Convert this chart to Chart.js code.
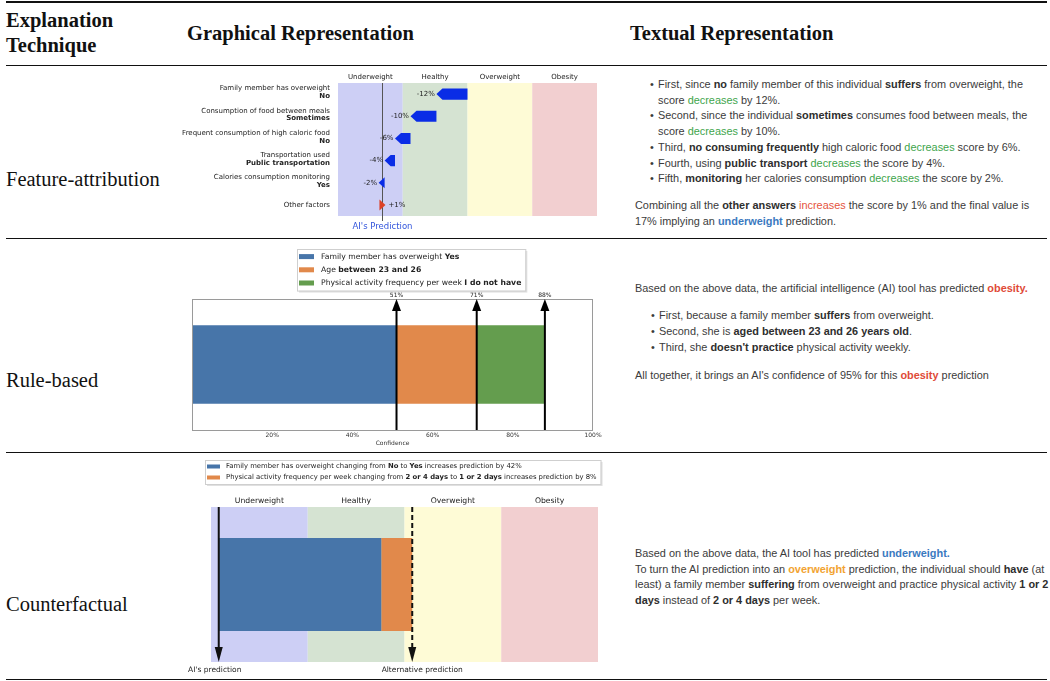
<!DOCTYPE html>
<html>
<head>
<meta charset="utf-8">
<script src="https://cdn.jsdelivr.net/npm/chart.js@4.4.0/dist/chart.umd.min.js"></script>
<style>
body { margin: 0; background: #fff; }
#page { position: relative; width: 1050px; height: 681px; overflow: hidden; background: #fff; }
.rule { position: absolute; left: 6px; width: 1041px; height: 1px; background: #111; }
.serif { position: absolute; font-family: 'Liberation Serif', serif; font-size: 20.5px; color: #111; white-space: nowrap; }
.hd { font-weight: bold; }
.txt { position: absolute; font-family: 'Liberation Sans', Arial, sans-serif; font-size: 10.9px; line-height: 15.7px; color: #3b3b3b; white-space: nowrap; }
.txt b { color: #2e2e2e; }
.bul { position: absolute; left: -8px; }
.g { color: #3ea54c; }
.r { color: #e5533d; }
.bl { color: #3b79bf; font-weight: bold; }
.ro { color: #e04a38; font-weight: bold; }
.or { color: #f2a332; font-weight: bold; }
canvas { position: absolute; }
</style>
</head>
<body>
<div id="page">
  <div class="rule" style="top:1px;height:2px"></div>
  <div class="rule" style="top:65px"></div>
  <div class="rule" style="top:238px"></div>
  <div class="rule" style="top:452px"></div>
  <div class="rule" style="top:679px"></div>

  <div class="serif hd" style="left:6px;top:8px;line-height:25px">Explanation<br>Technique</div>
  <div class="serif hd" style="left:187px;top:21px;line-height:25px">Graphical Representation</div>
  <div class="serif hd" style="left:630px;top:21px;line-height:25px">Textual Representation</div>

  <div class="serif" style="left:6px;top:167px;line-height:25px">Feature-attribution</div>
  <div class="serif" style="left:6px;top:368px;line-height:25px">Rule-based</div>
  <div class="serif" style="left:6px;top:592px;line-height:25px">Counterfactual</div>

  <canvas id="faChart" width="430" height="170" style="left:180px;top:68px"></canvas>
  <canvas id="ruleChart" width="430" height="210" style="left:180px;top:242px"></canvas>
  <canvas id="cfChart" width="430" height="226" style="left:180px;top:455px"></canvas>

  <div class="txt" style="left:658px;top:77px">
    <div style="position:relative"><span class="bul">•</span>First, since <b>no</b> family member of this individual <b>suffers</b> from overweight, the<br>score <span class="g">decreases</span> by 12%.</div>
    <div style="position:relative"><span class="bul">•</span>Second, since the individual <b>sometimes</b> consumes food between meals, the<br>score <span class="g">decreases</span> by 10%.</div>
    <div style="position:relative"><span class="bul">•</span>Third, <b>no consuming frequently</b> high caloric food <span class="g">decreases</span> score by 6%.</div>
    <div style="position:relative"><span class="bul">•</span>Fourth, using <b>public transport</b> <span class="g">decreases</span> the score by 4%.</div>
    <div style="position:relative"><span class="bul">•</span>Fifth, <b>monitoring</b> her calories consumption <span class="g">decreases</span> the score by 2%.</div>
  </div>
  <div class="txt" style="left:635px;top:198px">Combining all the <b>other answers</b> <span class="r">increases</span> the score by 1% and the final value is<br>17% implying an <span class="bl">underweight</span> prediction.</div>

  <div class="txt" style="left:635px;top:281px">Based on the above data, the artificial intelligence (AI) tool has predicted <span class="ro">obesity.</span></div>
  <div class="txt" style="left:659px;top:308px;line-height:15.8px">
    <div style="position:relative"><span class="bul">•</span>First, because a family member <b>suffers</b> from overweight.</div>
    <div style="position:relative"><span class="bul">•</span>Second, she is <b>aged between 23 and 26 years old</b>.</div>
    <div style="position:relative"><span class="bul">•</span>Third, she <b>doesn't practice</b> physical activity weekly.</div>
  </div>
  <div class="txt" style="left:635px;top:368px">All together, it brings an AI's confidence of 95% for this <span class="ro">obesity</span> prediction</div>

  <div class="txt" style="left:635px;top:546px">Based on the above data, the AI tool has predicted <span class="bl">underweight.</span><br>To turn the AI prediction into an <span class="or">overweight</span> prediction, the individual should <b>have</b> (at<br>least) a family member <b>suffering</b> from overweight and practice physical activity <b>1 or 2</b><br><b>days</b> instead of <b>2 or 4 days</b> per week.</div>
</div>

<script>
'use strict';

// BMI zones shared by the feature-attribution and counterfactual charts
const zoneNames = ['Underweight', 'Healthy', 'Overweight', 'Obesity'];
const zoneEdges = [0, 25, 50, 75, 100];
const zoneColors = ['#cdcff5', '#d5e3d2', '#fefbd6', '#f2cfd0'];

// feature attribution
const faFeatures = ['Family member has overweight', 'Consumption of food between meals',
  'Frequent consumption of high caloric food', 'Transportation used',
  'Calories consumption monitoring', 'Other factors'];
const faAnswers = ['No', 'Sometimes', 'No', 'Public transportation', 'Yes', ''];
const faStart = 50;
const faEffects = [-12, -10, -6, -4, -2, 1];

// rule based
const ruleLegend = [
  [['Family member has overweight ', false], ['Yes', true]],
  [['Age ', false], ['between 23 and 26', true]],
  [['Physical activity frequency per week ', false], ['I do not have', true]]
];
const ruleConfidence = [51, 71, 88];
const ruleColors = ['#4775a9', '#e1894b', '#649d4e'];

// counterfactual
const cfLegend = [
  [['Family member has overweight changing from ', false], ['No', true], [' to ', false], ['Yes', true], [' increases prediction by 42%', false]],
  [['Physical activity frequency per week changing from ', false], ['2 or 4 days', true], [' to ', false], ['1 or 2 days', true], [' increases prediction by 8%', false]]
];
const cfPrediction = 2;
const cfChanges = [42, 8];
const cfColors = ['#4775a9', '#e1894b'];

const FONT = "'DejaVu Sans', sans-serif";

function richText(ctx, parts, x, y, size) {
  for (let i = 0; i < parts.length; i++) {
    ctx.font = (parts[i][1] ? 'bold ' : '') + size + 'px ' + FONT;
    ctx.fillText(parts[i][0], x, y);
    x += ctx.measureText(parts[i][0]).width;
  }
  return x;
}

function drawLegendBox(ctx, items, colors, left, top, size, rowH, swW, swH, textOff) {
  ctx.save();
  ctx.textBaseline = 'middle';
  ctx.textAlign = 'left';
  let w = 0;
  for (let i = 0; i < items.length; i++) {
    let x = 0;
    items[i].forEach(p => { ctx.font = (p[1] ? 'bold ' : '') + size + 'px ' + FONT; x += ctx.measureText(p[0]).width; });
    w = Math.max(w, x);
  }
  let boxW = textOff + w + 4;
  let boxH = rowH * items.length + 2;
  ctx.fillStyle = 'rgba(0,0,0,0.12)';
  ctx.fillRect(left + 2, top + 2, boxW, boxH);
  ctx.fillStyle = '#fff';
  ctx.fillRect(left, top, boxW, boxH);
  ctx.strokeStyle = '#cfcfcf';
  ctx.lineWidth = 1;
  ctx.strokeRect(left + 0.5, top + 0.5, boxW, boxH);
  for (let i = 0; i < items.length; i++) {
    let cy = top + 1 + rowH * (i + 0.5);
    ctx.fillStyle = colors[i];
    ctx.fillRect(left + 2, cy - swH / 2, swW, swH);
    ctx.fillStyle = '#222';
    richText(ctx, items[i], left + textOff, cy, size);
  }
  ctx.restore();
}

function zonesPlugin(labelSize, labelGap) {
  return {
    id: 'zones',
    beforeDatasetsDraw(chart) {
      let ctx = chart.ctx, xs = chart.scales.x, a = chart.chartArea;
      ctx.save();
      for (let i = 0; i < zoneNames.length; i++) {
        let x0 = xs.getPixelForValue(zoneEdges[i]);
        let x1 = xs.getPixelForValue(zoneEdges[i + 1]);
        ctx.fillStyle = zoneColors[i];
        ctx.fillRect(x0, a.top, x1 - x0, a.bottom - a.top);
        ctx.fillStyle = '#222';
        ctx.font = labelSize + 'px ' + FONT;
        ctx.textAlign = 'center';
        ctx.textBaseline = 'middle';
        ctx.fillText(zoneNames[i], (x0 + x1) / 2, a.top - labelGap);
      }
      ctx.restore();
    }
  };
}

// ---------- feature attribution ----------
let faBars = [];
let cur = faStart;
for (let i = 0; i < faEffects.length; i++) {
  faBars.push([cur, cur + faEffects[i]]);
  cur += faEffects[i];
}
const faFinal = cur;

const faPlugin = {
  id: 'faArrows',
  afterDatasetsDraw(chart) {
    let ctx = chart.ctx, xs = chart.scales.x, a = chart.chartArea;
    let meta = chart.getDatasetMeta(0);
    ctx.save();
    // prediction line
    let px = Math.round(xs.getPixelForValue(faFinal)) + 0.5;
    ctx.strokeStyle = '#555';
    ctx.lineWidth = 1;
    ctx.beginPath();
    ctx.moveTo(px, a.top);
    ctx.lineTo(px, a.bottom + 5);
    ctx.stroke();
    ctx.fillStyle = '#3456dc';
    ctx.font = '8.5px ' + FONT;
    ctx.textAlign = 'center';
    ctx.textBaseline = 'middle';
    ctx.fillText("AI's Prediction", px, a.bottom + 11);

    meta.data.forEach((bar, i) => {
      let x0 = xs.getPixelForValue(faBars[i][0]);
      let x1 = xs.getPixelForValue(faBars[i][1]);
      let dir = x1 < x0 ? -1 : 1;
      let head = 6;
      if (Math.abs(x1 - x0) < head) x1 = x0 + dir * head;
      let y = bar.y, h = bar.height;
      ctx.fillStyle = faEffects[i] < 0 ? '#0a2ce6' : '#dc4128';
      ctx.beginPath();
      ctx.moveTo(x0, y - h / 2);
      ctx.lineTo(x1 - dir * head, y - h / 2);
      ctx.lineTo(x1, y);
      ctx.lineTo(x1 - dir * head, y + h / 2);
      ctx.lineTo(x0, y + h / 2);
      ctx.closePath();
      ctx.fill();

      ctx.fillStyle = '#222';
      ctx.font = '7px ' + FONT;
      let lbl = (faEffects[i] > 0 ? '+' : '') + faEffects[i] + '%';
      if (dir < 0) {
        ctx.textAlign = 'right';
        ctx.fillText(lbl, x1 - 1.5, y);
      } else {
        ctx.textAlign = 'left';
        ctx.fillText(lbl, x1 + 3, y);
      }

      // category labels, answer in bold
      ctx.textAlign = 'right';
      let lx = a.left - 8;
      if (faAnswers[i]) {
        ctx.font = '7px ' + FONT;
        ctx.fillText(faFeatures[i], lx, y - 5.5);
        ctx.font = 'bold 7px ' + FONT;
        ctx.fillText(faAnswers[i], lx, y + 2.3);
      } else {
        ctx.font = '7px ' + FONT;
        ctx.fillText(faFeatures[i], lx, y);
      }
    });
    ctx.restore();
  }
};

new Chart(document.getElementById('faChart'), {
  type: 'bar',
  data: {
    labels: faFeatures,
    datasets: [{
      data: faBars,
      backgroundColor: 'rgba(0,0,0,0)',
      barPercentage: 0.5,
      categoryPercentage: 1
    }]
  },
  options: {
    indexAxis: 'y',
    responsive: false,
    animation: false,
    layout: { padding: { left: 158, right: 13, top: 15, bottom: 22 } },
    scales: {
      x: { display: false, min: 0, max: 100 },
      y: { display: false }
    },
    plugins: { legend: { display: false }, tooltip: { enabled: false } }
  },
  plugins: [zonesPlugin(7, 6), faPlugin]
});

// ---------- rule based ----------
let ruleBars = ruleConfidence.map((v, i) => [i === 0 ? 0 : ruleConfidence[i - 1], v]);

const rulePlugin = {
  id: 'ruleArrows',
  afterDatasetsDraw(chart) {
    let ctx = chart.ctx, xs = chart.scales.x, a = chart.chartArea;
    ctx.save();
    ctx.strokeStyle = '#9a9a9a';
    ctx.lineWidth = 1;
    ctx.strokeRect(a.left + 0.5, a.top + 0.5, a.right - a.left - 1, a.bottom - a.top);
    ruleConfidence.forEach(v => {
      let x = xs.getPixelForValue(v);
      ctx.strokeStyle = '#000';
      ctx.lineWidth = 2;
      ctx.beginPath();
      ctx.moveTo(x, a.bottom);
      ctx.lineTo(x, a.top + 10);
      ctx.stroke();
      ctx.fillStyle = '#000';
      ctx.beginPath();
      ctx.moveTo(x, a.top);
      ctx.lineTo(x - 4.5, a.top + 12);
      ctx.lineTo(x + 4.5, a.top + 12);
      ctx.closePath();
      ctx.fill();
      ctx.fillStyle = '#222';
      ctx.font = '6px ' + FONT;
      ctx.textAlign = 'center';
      ctx.textBaseline = 'middle';
      ctx.fillText(v + '%', x, a.top - 4);
    });
    drawLegendBox(ctx, ruleLegend, ruleColors, a.left + 105, 7, 7.7, 13.2, 15, 5, 24);
    ctx.restore();
  }
};

new Chart(document.getElementById('ruleChart'), {
  type: 'bar',
  data: {
    labels: [''],
    datasets: ruleBars.map((b, i) => ({
      data: [b],
      backgroundColor: ruleColors[i],
      barPercentage: 0.6,
      categoryPercentage: 1,
      grouped: false
    }))
  },
  options: {
    indexAxis: 'y',
    responsive: false,
    animation: false,
    layout: { padding: { left: 12, right: 17, top: 57, bottom: 2 } },
    scales: {
      x: {
        min: 0, max: 100,
        grid: { display: false, drawTicks: false },
        border: { display: false },
        ticks: { stepSize: 20, padding: 2, color: '#333', font: { family: 'DejaVu Sans', size: 6 },
          callback: v => v === 0 ? '' : v + '%' },
        title: { display: true, text: 'Confidence', color: '#333', padding: { top: 0, bottom: 3 },
          font: { family: 'DejaVu Sans', size: 6 } },
        afterFit: s => { s.height = 20; }
      },
      y: { display: false }
    },
    plugins: { legend: { display: false }, tooltip: { enabled: false } }
  },
  plugins: [rulePlugin]
});

// ---------- counterfactual ----------
let cfBars = [];
let cfCur = cfPrediction;
cfChanges.forEach(c => { cfBars.push([cfCur, cfCur + c]); cfCur += c; });
const cfAlternative = cfCur;

function vArrow(ctx, x, top, bottom, dashed) {
  ctx.strokeStyle = '#111';
  ctx.lineWidth = 2;
  ctx.setLineDash(dashed ? [5, 3] : []);
  ctx.beginPath();
  ctx.moveTo(x, top);
  ctx.lineTo(x, bottom - 12);
  ctx.stroke();
  ctx.setLineDash([]);
  ctx.fillStyle = '#111';
  ctx.beginPath();
  ctx.moveTo(x, bottom);
  ctx.lineTo(x - 4, bottom - 15);
  ctx.lineTo(x + 4, bottom - 15);
  ctx.closePath();
  ctx.fill();
}

const cfPlugin = {
  id: 'cfArrows',
  afterDatasetsDraw(chart) {
    let ctx = chart.ctx, xs = chart.scales.x, a = chart.chartArea;
    ctx.save();
    let x0 = xs.getPixelForValue(cfPrediction);
    let x1 = xs.getPixelForValue(cfAlternative);
    vArrow(ctx, x0, a.top, a.bottom, false);
    vArrow(ctx, x1, a.top, a.bottom, true);
    ctx.fillStyle = '#222';
    ctx.font = '7.5px ' + FONT;
    ctx.textAlign = 'center';
    ctx.textBaseline = 'middle';
    ctx.fillText("AI's prediction", x0 - 4, a.bottom + 8.5);
    ctx.fillText('Alternative prediction', x1 + 10, a.bottom + 8.5);
    drawLegendBox(ctx, cfLegend, cfColors, a.left - 6, 5, 6.85, 11, 13, 4, 21);
    ctx.restore();
  }
};

new Chart(document.getElementById('cfChart'), {
  type: 'bar',
  data: {
    labels: [''],
    datasets: cfBars.map((b, i) => ({
      data: [b],
      backgroundColor: cfColors[i],
      barPercentage: 0.6,
      categoryPercentage: 1,
      grouped: false
    }))
  },
  options: {
    indexAxis: 'y',
    responsive: false,
    animation: false,
    layout: { padding: { left: 31, right: 12, top: 52, bottom: 19 } },
    scales: {
      x: { display: false, min: 0, max: 100 },
      y: { display: false }
    },
    plugins: { legend: { display: false }, tooltip: { enabled: false } }
  },
  plugins: [zonesPlugin(7.7, 6), cfPlugin]
});
</script>
</body>
</html>
